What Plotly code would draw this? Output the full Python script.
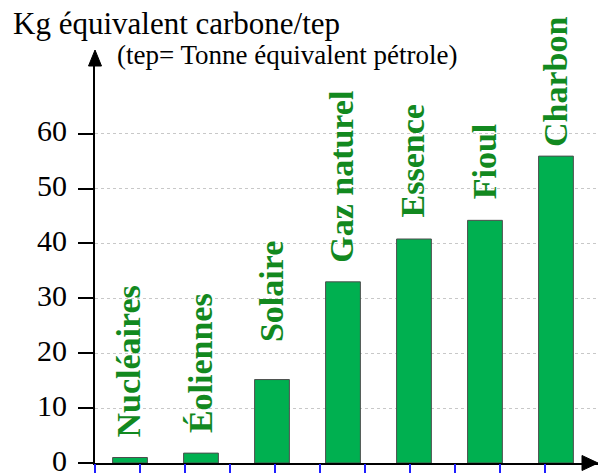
import plotly.graph_objects as go

# Emissions by energy source (kg carbon equivalent per tep)
sources = ["Nucléaires", "Éoliennes", "Solaire", "Gaz naturel", "Essence", "Fioul", "Charbon"]
kg_carbone = [1.0, 1.8, 15.2, 33.0, 40.8, 44.2, 55.9]
y_ticks = [0, 10, 20, 30, 40, 50, 60]

W, H = 609, 473
L, R, T, B = 95, 11, 65, 10  # plot-area margins in px
PW, PH = W - L - R, H - T - B

def px(x):
    return (x - L) / PW

def py(y):
    return (H - B - y) / PH

SERIF = "'Liberation Serif', 'Times New Roman', 'DejaVu Serif', serif"
BAR_FILL = "#00b050"
LABEL_GREEN = "#12891f"

fig = go.Figure()
fig.add_trace(go.Bar(
    x=sources, y=kg_carbone, width=0.49,
    marker=dict(color=BAR_FILL, line=dict(color="#4d4d4d", width=1)),
    hoverinfo="x+y",
))
# dummy trace to activate the secondary (blue tick) x axis
fig.add_trace(go.Scatter(x=[None], y=[None], xaxis="x2", showlegend=False))

# rotated category names above each bar
label_gap = [19, 19, 37, 18, 21, 20, 8]
for name, v, gap in zip(sources, kg_carbone, label_gap):
    fig.add_annotation(
        x=name, y=v, xref="x", yref="y", text="<b>" + name + "</b>", showarrow=False,
        textangle=-90, xanchor="center", yanchor="bottom", yshift=gap, xshift=-1,
        font=dict(family=SERIF, size=34, color=LABEL_GREEN),
        borderpad=0,
    )

# axis titles
fig.add_annotation(x=px(11), y=py(23), xref="paper", yref="paper",
                   text="Kg équivalent carbone/tep", showarrow=False,
                   xanchor="left", yanchor="middle",
                   font=dict(family=SERIF, size=31, color="black"))
fig.add_annotation(x=px(115), y=py(55), xref="paper", yref="paper",
                   text="(tep= Tonne équivalent pétrole)", showarrow=False,
                   xanchor="left", yanchor="middle",
                   font=dict(family=SERIF, size=27, color="black"))

# arrowheads at the ends of both axes
def tri(pts):
    return "M " + " L ".join(f"{px(a)},{py(b)}" for a, b in pts) + " Z"

fig.add_shape(type="path", xref="paper", yref="paper",
              path=tri([(95, 50), (88.5, 66), (101.5, 66)]),
              fillcolor="black", line=dict(color="black", width=1), layer="above")
fig.add_shape(type="path", xref="paper", yref="paper",
              path=tri([(598, 463), (582, 455.5), (582, 470.5)]),
              fillcolor="black", line=dict(color="black", width=1), layer="above")

fig.update_layout(
    width=W, height=H,
    margin=dict(l=L, r=R, t=T, b=B, pad=0, autoexpand=False),
    paper_bgcolor="white", plot_bgcolor="white",
    showlegend=False, bargap=0.5,
    xaxis=dict(
        type="category", range=[-0.493, 6.592], automargin=False,
        showticklabels=False, ticks="", showgrid=False, zeroline=False,
        showline=True, linecolor="black", linewidth=2,
    ),
    xaxis2=dict(
        overlaying="x", anchor="y", side="bottom", automargin=False,
        range=[0, PW / 45], tickmode="array", tickvals=list(range(11)),
        ticks="outside", ticklen=9, tickwidth=2, tickcolor="#1f1fff",
        showticklabels=False, showgrid=False, zeroline=False, showline=False,
    ),
    yaxis=dict(
        range=[0, (H - B - T) / 5.49], tickmode="array", tickvals=y_ticks,
        automargin=False, ticklabeloverflow="allow",
        ticks="outside", ticklen=15, tickwidth=2, tickcolor="black",
        ticklabelstandoff=5, ticklabelshift=-3,
        tickfont=dict(family=SERIF, size=30, color="black"),
        showgrid=True, gridcolor="#c8c8c8", gridwidth=1, griddash="dot",
        zeroline=False, showline=True, linecolor="black", linewidth=2,
    ),
)

fig.write_html("out.html")
